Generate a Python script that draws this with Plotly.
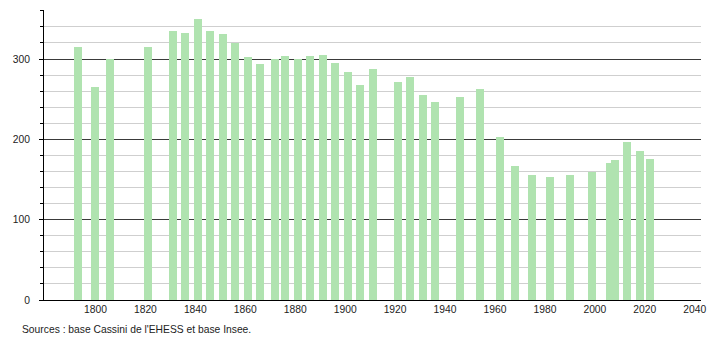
import plotly.graph_objects as go

years = [1793, 1800, 1806, 1821, 1831, 1836, 1841, 1846, 1851, 1856,
         1861, 1866, 1872, 1876, 1881, 1886, 1891, 1896, 1901, 1906,
         1911, 1921, 1926, 1931, 1936, 1946, 1954, 1962, 1968, 1975,
         1982, 1990, 1999, 2006, 2008, 2013, 2018, 2022]
population = [315, 265, 300, 315, 335, 332, 350, 335, 331, 320,
              303, 294, 300, 304, 300, 304, 305, 295, 284, 268,
              287, 272, 277, 255, 247, 253, 263, 203, 167, 155,
              153, 155, 159, 170, 174, 197, 185, 176]
x_ticks = [1800, 1820, 1840, 1860, 1880, 1900, 1920, 1940, 1960, 1980, 2000, 2020, 2040]
y_ticks = [0, 100, 200, 300]
source_text = "Sources : base Cassini de l'EHESS et base Insee."

fig = go.Figure()
fig.add_trace(go.Bar(
    x=years, y=population, width=3.2,
    marker=dict(color="#b0e3b0", line=dict(width=0)),
    hoverinfo="x+y",
))

font = dict(family="Liberation Sans, Arial, sans-serif", size=10.3, color="#222")

fig.update_layout(
    width=710, height=340,
    margin=dict(l=44, r=9, t=10, b=40),
    paper_bgcolor="white", plot_bgcolor="white",
    showlegend=False,
    font=font,
    bargap=0,
    xaxis=dict(
        range=[1779.4, 2042.5],
        tickvals=x_ticks,
        ticktext=[str(v) for v in x_ticks],
        showgrid=False, zeroline=False,
        showline=True, linecolor="#000", linewidth=1,
        ticks="", tickfont=font,
        automargin=False,
        fixedrange=True,
    ),
    yaxis=dict(
        range=[0, 361],
        tickvals=y_ticks,
        showgrid=True, gridcolor="#3a3a3a", gridwidth=1,
        zeroline=False,
        showline=True, linecolor="#000", linewidth=1,
        ticks="outside", ticklen=4, tickcolor="#000",
        ticklabelstandoff=7,
        tickfont=font,
        automargin=False,
        minor=dict(dtick=20, tick0=0, showgrid=True, gridcolor="#cfcfcf",
                   gridwidth=1, ticks="outside", ticklen=3, tickcolor="#000"),
        fixedrange=True,
    ),
    annotations=[dict(
        text=source_text, xref="paper", yref="paper",
        x=-0.037, y=-0.103, xanchor="left", yanchor="middle",
        showarrow=False, font=font,
    )],
)

fig.write_html("out.html")
